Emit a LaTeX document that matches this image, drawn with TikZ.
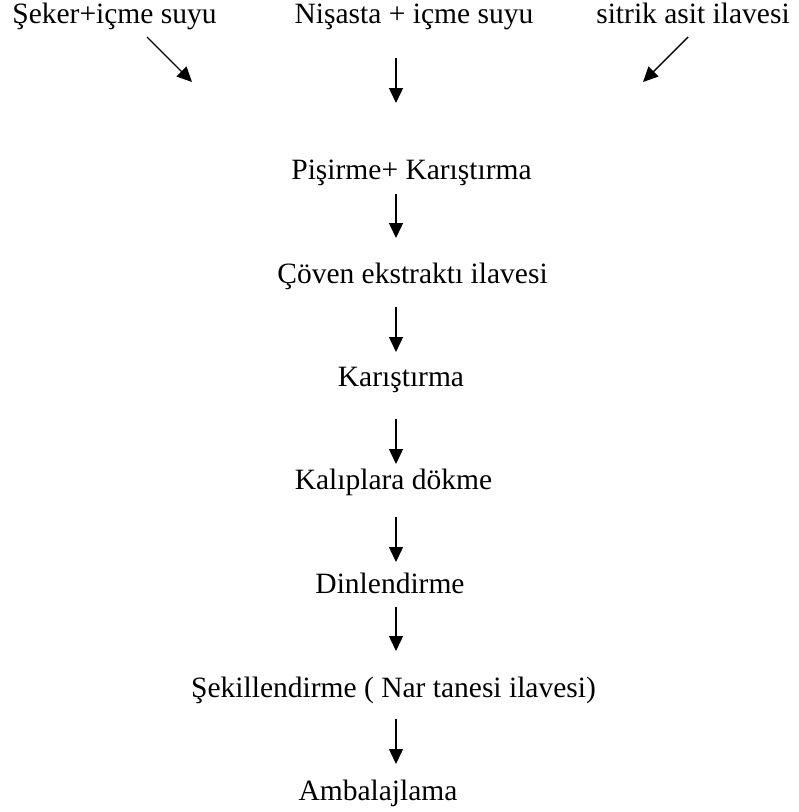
\documentclass[tikz,border=0pt]{standalone}
\usepackage{fontspec}
\setmainfont{Liberation Serif}
\usetikzlibrary{arrows.meta}
\tikzset{stagenode/.style={inner sep=0pt, anchor=base, font=\fontsize{29.5}{35}\selectfont}}
\tikzset{flowarrow/.style={line width=1.4pt, -{Triangle[length=15pt,width=14pt]}}}

\begin{document}
\begin{tikzpicture}[x=1pt,y=-1pt]
\useasboundingbox (0,0) rectangle (799,812);
\coordinate (spine) at (396,0);
\foreach \name/\x/\y/\txt in {seker/114.5/23/{Şeker+içme suyu},
	nisasta/414/23/{Nişasta + içme suyu},
	sitrik/693/23/{sitrik asit ilavesi},
	pisirme/411.5/179/{Pişirme+ Karıştırma},
	coven/412.5/283/{Çöven ekstraktı ilavesi},
	karistirma/401/386/{Karıştırma},
	kaliplara/393.5/489/{Kalıplara dökme},
	dinlendirme/390/593/{Dinlendirme},
	sekillendirme/393.5/697/{Şekillendirme ( Nar tanesi ilavesi)},
	ambalajlama/378/800/{Ambalajlama}}
{
	\node[stagenode] (\name) at (\x,\y) {\txt} ;
}
\coordinate (mixL) at (192,82) ;
\coordinate (mixC) at (396,103) ;
\coordinate (mixR) at (643,82) ;
\draw[flowarrow] ([shift={(32.5,14)}]seker.base) -- (mixL) ;
\draw[flowarrow, shorten <=35pt] (nisasta.base -| spine) -- (mixC) ;
\draw[flowarrow] ([shift={(-5,14)}]sitrik.base) -- (mixR) ;
\foreach \a/\b/\s/\e in {pisirme/coven/15/45, coven/karistirma/24/34,
	karistirma/kaliplara/33/25, kaliplara/dinlendirme/28/31,
	dinlendirme/sekillendirme/14/46, sekillendirme/ambalajlama/22/36}
{
	\draw[flowarrow, shorten <=\s pt, shorten >=\e pt] (\a.base -| spine) -- (\b.base -| spine) ;
}
\end{tikzpicture}
\end{document}
